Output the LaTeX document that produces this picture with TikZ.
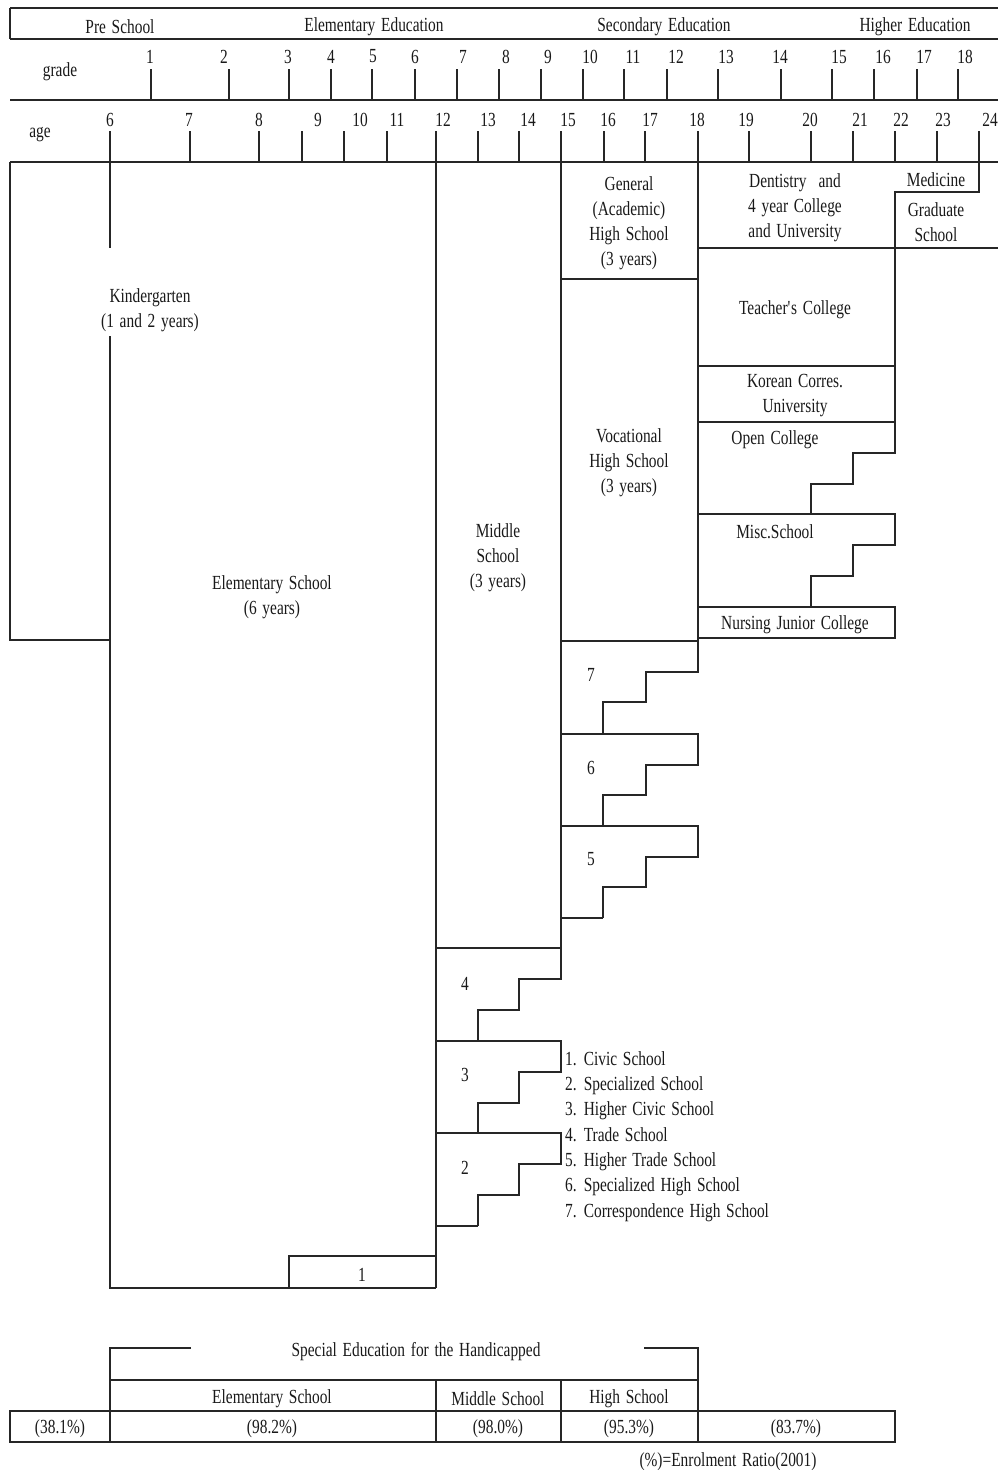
\documentclass[tikz,border=0pt]{standalone}
\usepackage{fontspec}
\setmainfont{Liberation Serif}[FakeStretch=0.77, WordSpace=1.5]
\newcommand\chartfont{\fontsize{20}{25}\selectfont}

\begin{document}
\begin{tikzpicture}[
        x=1pt, y=-1pt,
        line/.style={draw=black!85, line width=1.25pt},
        lbl/.style={inner sep=0pt, align=center, font=\chartfont, text=black!90, yshift=-1.5pt},
        legendtext/.style={lbl, align=left, anchor=west, font=\fontsize{20}{25.3}\selectfont}
    ]
        \useasboundingbox (0,0) rectangle (998,1470);

        % header rows
        \draw[line] (10,8) -- (998,8);
        \draw[line] (10,8) -- (10,39);
        \draw[line] (10,39) -- (998,39);
        \draw[line] (10,100) -- (998,100);
        \draw[line] (10,162) -- (998,162);

        \node[lbl] (preschool) at (120,25) {Pre School};
        \node[lbl] (elemedu) at (374,25) {Elementary Education};
        \node[lbl] (secedu) at (664,25) {Secondary Education};
        \node[lbl] (highedu) at (915,25) {Higher Education};

        \node[lbl] (grade) at (60,70) {grade};
        \node[lbl] (age) at (40,133) {age};

        \foreach \tx in {151,229,289,331,372,415,457,499,541,583,624,667,718,781,832,874,917,958}
            \draw[line] (\tx,69) -- (\tx,100);
        \foreach \lx/\n in {150/1,224/2,288/3,331/4,373/5,415/6,463/7,506/8,548/9,590/10,633/11,676/12,726/13,780/14,839/15,883/16,924/17,965/18}
            \node[lbl] (g\n) at (\lx,55) {\n};

        \foreach \tx in {190,259,302,344,387,478,519,604,645,749,811,853,895,937}
            \draw[line] (\tx,131) -- (\tx,162);
        \foreach \lx/\n in {110/6,189/7,259/8,318/9,360/10,397/11,443/12,488/13,528/14,568/15,608/16,650/17,697/18,746/19,810/20,860/21,901/22,943/23,990/24}
            \node[lbl] (a\n) at (\lx,118) {\n};

        % pre school and elementary
        \draw[line] (10,162) -- (10,640) -- (110,640);
        \draw[line] (110,131) -- (110,248);
        \draw[line] (110,336) -- (110,1288) -- (436,1288);
        \draw[line] (436,131) -- (436,1288);
        \draw[line] (289,1288) -- (289,1256) -- (436,1256);

        \node[lbl] (kinder) at (150,309) {Kindergarten\\(1 and 2 years)};
        \node[lbl] (elem) at (272,596) {Elementary School\\(6 years)};
        \node[lbl] (civic) at (362,1273) {1};

        % middle and high school
        \draw[line] (561,131) -- (561,979);
        \draw[line] (698,131) -- (698,672);
        \draw[line] (561,279) -- (698,279);
        \foreach \t in {641,734,826}
            \draw[line] (561,\t) -- (698,\t) -- ++(0,31) -- ++(-52,0) -- ++(0,30) -- ++(-43,0) -- ++(0,31);
        \draw[line] (603,918) -- (561,918);
        \foreach \t in {948,1041,1133}
            \draw[line] (436,\t) -- (561,\t) -- ++(0,31) -- ++(-42,0) -- ++(0,31) -- ++(-41,0) -- ++(0,31);
        \draw[line] (478,1226) -- (436,1226);

        \node[lbl] (middle) at (498,556) {Middle\\School\\(3 years)};
        \node[lbl] (genhs) at (629,222) {General\\(Academic)\\High School\\(3 years)};
        \node[lbl] (vochs) at (629,461) {Vocational\\High School\\(3 years)};
        \node[lbl] (corrhs) at (591,673) {7};
        \node[lbl] (spechs) at (591,766) {6};
        \node[lbl] (hitrade) at (591,858) {5};
        \node[lbl] (trade) at (465,982) {4};
        \node[lbl] (hicivic) at (465,1073) {3};
        \node[lbl] (specs) at (465,1166) {2};

        \node[legendtext] (legend) at (565,1135) {1. Civic School\\2. Specialized School\\3. Higher Civic School\\4. Trade School\\5. Higher Trade School\\6. Specialized High School\\7. Correspondence High School};

        % higher education
        \draw[line] (979,131) -- (979,192) -- (895,192) -- (895,452);
        \draw[line] (698,248) -- (998,248);
        \draw[line] (698,366) -- (895,366);
        \draw[line] (698,422) -- (895,422);
        \foreach \t in {422,514}
            \draw[line] (698,\t) -- (895,\t) -- ++(0,31) -- ++(-42,0) -- ++(0,31) -- ++(-42,0) -- ++(0,31);
        \draw[line] (698,607) rectangle (895,638);

        \node[lbl] (univ) at (795,206) {Dentistry\hspace{12pt}and\\4 year College\\and University};
        \node[lbl] (medicine) at (936,178) {Medicine};
        \node[lbl] (gradschool) at (936,221) {Graduate\\School};
        \node[lbl] (teachers) at (795,308) {Teacher\textquotesingle s College};
        \node[lbl] (korcorres) at (795,394) {Korean Corres.\\University};
        \node[lbl] (opencol) at (775,438) {Open College};
        \node[lbl] (misc) at (775,530) {Misc.School};
        \node[lbl] (nursing) at (795,623) {Nursing Junior College};

        % special education and enrolment ratios
        \draw[line] (191,1348) -- (110,1348) -- (110,1442);
        \draw[line] (644,1348) -- (698,1348) -- (698,1442);
        \draw[line] (110,1380) -- (698,1380);
        \draw[line] (436,1380) -- (436,1442);
        \draw[line] (561,1380) -- (561,1442);
        \draw[line] (10,1411) rectangle (895,1442);

        \node[lbl] (special) at (416,1350) {Special Education for the Handicapped};
        \node[lbl] (spelem) at (272,1397) {Elementary School};
        \node[lbl] (spmid) at (498,1397) {Middle School};
        \node[lbl] (sphigh) at (629,1397) {High School};
        \node[lbl] (rpre) at (60,1427) {(38.1\%)};
        \node[lbl] (relem) at (272,1427) {(98.2\%)};
        \node[lbl] (rmid) at (498,1427) {(98.0\%)};
        \node[lbl] (rhigh) at (629,1427) {(95.3\%)};
        \node[lbl] (rhighedu) at (796,1427) {(83.7\%)};
        \node[lbl] (ratio) at (728,1460) {(\%)=Enrolment Ratio(2001)};

    \end{tikzpicture}
\end{document}
